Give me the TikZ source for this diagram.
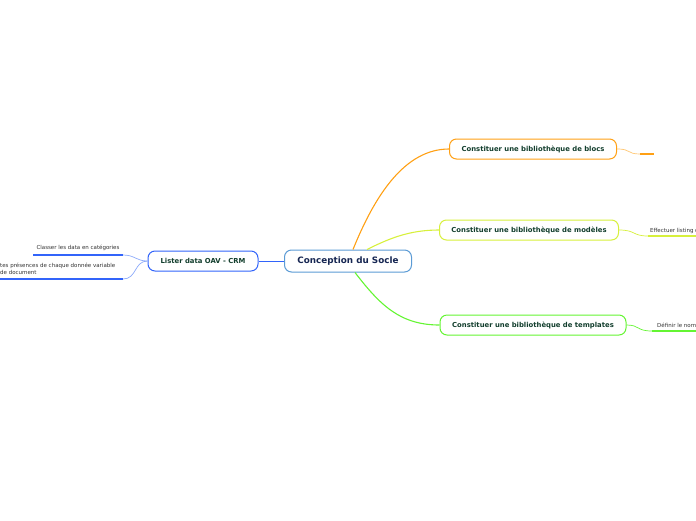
\documentclass[tikz,border=0pt]{standalone}
\usepackage{fontspec}
\setmainfont{DejaVu Sans}
\usepackage{tikz}
\definecolor{rootblue}{RGB}{91,155,213}
\definecolor{rootink}{RGB}{22,38,82}
\definecolor{branchink}{RGB}{18,62,45}
\definecolor{blocorange}{RGB}{255,160,20}
\definecolor{modelyellow}{RGB}{215,240,60}
\definecolor{tplgreen}{RGB}{100,245,50}
\definecolor{oavblue}{RGB}{50,100,250}
\definecolor{oavlight}{RGB}{140,170,250}

\begin{document}
\begin{tikzpicture}[x=1pt, y=-1pt,
    root/.style={rectangle, rounded corners=7pt, draw=rootblue, line width=1pt, fill=white,
        minimum width=127pt, minimum height=22pt, text=rootink, font=\fontsize{8.8}{10}\selectfont\bfseries},
    branch/.style={rectangle, rounded corners=7pt, draw=#1, line width=1pt, fill=white,
        minimum height=20pt, text=branchink, font=\fontsize{6.85}{8}\selectfont\bfseries},
    leaf/.style={text=black!80, font=\fontsize{5.5}{7}\selectfont, inner sep=0pt, align=left},
    link/.style={line width=1.1pt, #1}
]
\clip (0,0) rectangle (696,520);
\useasboundingbox (0,0) rectangle (696,520);

% Centre
\node[root] (socle) at (348,261) {Conception du Socle};

% Branches (right side)
\node[branch=blocorange, minimum width=167pt] (blocs) at (533,149) {Constituer une bibliothèque de blocs};
\node[branch=modelyellow, minimum width=179pt] (modeles) at (529,230) {Constituer une bibliothèque de modèles};
\node[branch=tplgreen, minimum width=186pt] (templates) at (533,325) {Constituer une bibliothèque de templates};

\draw[link=blocorange] ([xshift=5pt]socle.north) .. controls (375,195) and (405,149) .. (blocs.west);
\draw[link=modelyellow] ([xshift=19pt]socle.north) .. controls (390,238) and (410,230) .. (modeles.west);
\draw[link=tplgreen] ([xshift=7pt]socle.south) .. controls (380,305) and (400,325) .. (templates.west);

% Branch (left side)
\node[branch=oavblue, minimum width=110pt] (oav) at (203,261) {Lister data OAV - CRM};
\draw[line width=0.8pt, oavblue] (socle.west) -- (oav.east);

% Leaves
\coordinate (blocsend) at (640,154);
\draw[blocorange!60, line width=0.7pt] (blocs.east) .. controls (632,149) and (626,154) .. (blocsend);
\draw[blocorange, line width=1.5pt] (blocsend) -- ++(14,0);

\node[leaf, anchor=base west] (listing) at (650,232) {Effectuer listing d};
\coordinate (modelesend) at (648,236);
\draw[modelyellow, line width=0.7pt] (modeles.east) .. controls (636,230) and (632,236) .. (modelesend);
\draw[modelyellow, line width=1.5pt] (modelesend) -- (700,236);

\node[leaf, anchor=base west] (nom) at (657,327) {Définir le nom};
\coordinate (templatesend) at (652,331);
\draw[tplgreen, line width=0.7pt] (templates.east) .. controls (640,325) and (636,331) .. (templatesend);
\draw[tplgreen, line width=1.5pt] (templatesend) -- (700,331);

\node[leaf, anchor=base] (classer) at (78,249) {Classer les data en catégories};
\coordinate (classerend) at (123,255);
\draw[oavlight, line width=0.7pt] (oav.west) .. controls (136,261) and (135,255) .. (classerend);
\draw[oavblue, line width=1.5pt] (classerend) -- (33,255);

\node[leaf, anchor=north west] (presences) at (0,263) {tes présences de chaque donnée variable\\de document};
\coordinate (presencesend) at (123,279);
\draw[oavlight, line width=0.7pt] (oav.west) .. controls (134,261) and (137,279) .. (presencesend);
\draw[oavblue, line width=1.5pt] (presencesend) -- (-5,279);

\end{tikzpicture}
\end{document}
